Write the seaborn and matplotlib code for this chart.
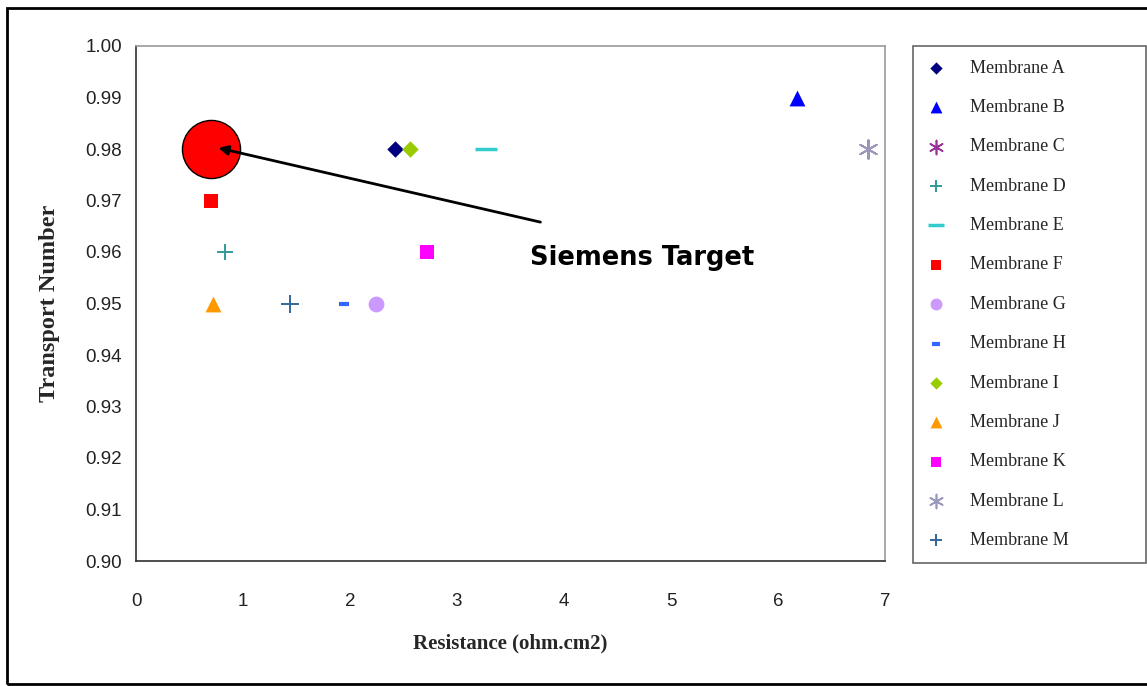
import matplotlib
matplotlib.use("Agg")
import matplotlib.pyplot as plt
import seaborn as sns
import pandas as pd
from matplotlib.patches import Rectangle

# ---- data ----
membranes = ["Membrane A", "Membrane B", "Membrane C", "Membrane D", "Membrane E",
             "Membrane F", "Membrane G", "Membrane H", "Membrane I", "Membrane J",
             "Membrane K", "Membrane L", "Membrane M"]
resistance = [2.42, 6.18, 6.84, 0.83, 3.27, 0.70, 2.24, 1.94, 2.56, 0.72, 2.72, 6.84, 1.44]
transport = [0.98, 0.99, 0.98, 0.96, 0.98, 0.97, 0.95, 0.95, 0.98, 0.95, 0.96, 0.98, 0.95]
target_x = [0.70]
target_y = [0.98]
target_label = "Siemens Target"
x_ticks = [0, 1, 2, 3, 4, 5, 6, 7]
y_ticks = [0.90, 0.91, 0.92, 0.93, 0.94, 0.95, 0.96, 0.97, 0.98, 0.99, 1.00]

# ---- styles ----
colors = ["#000080", "#0000FF", "#993399", "#339999", "#33CCCC", "#FF0000", "#CC99FF",
          "#3366FF", "#99CC00", "#FF9900", "#FF00FF", "#9999BB", "#336699"]
markers = ["D", "^", (6, 2, 0), "+", "_", "s", "o", "_", "D", "^", "s", (6, 2, 0), "+"]
sizes = [70, 130, 180, 120, 260, 110, 130, 50, 70, 130, 110, 180, 150]
lws = [0, 0, 1.2, 1.4, 2.5, 0, 0, 3.0, 0, 0, 0, 1.2, 1.4]

sns.set_theme(style="white")
plt.rcParams["font.family"] = ["Liberation Serif", "DejaVu Sans"]

fig = plt.figure(figsize=(11.47, 6.86), dpi=100)
W, H = 1147, 686
ax = fig.add_axes([136 / W, 1 - 561 / H, (885 - 136) / W, (561 - 46) / H])

df = pd.DataFrame({"membrane": membranes, "resistance": resistance, "transport": transport})

# big target circle
sns.scatterplot(x=target_x, y=target_y, s=1750, color="#FF0000", edgecolor="black",
                linewidth=1.0, ax=ax, legend=False, zorder=2)

for i, name in enumerate(membranes):
    sub = df[df["membrane"] == name]
    kw = dict(x=sub["resistance"], y=sub["transport"], marker=markers[i], s=sizes[i],
              color=colors[i], ax=ax, label=name, zorder=3, linewidth=lws[i])
    sns.scatterplot(**kw)

ax.set_xlim(0, 7)
ax.set_ylim(0.90, 1.00)
ax.set_xticks(x_ticks)
ax.set_xticklabels([str(t) for t in x_ticks])
ax.set_yticks(y_ticks)
ax.set_yticklabels([f"{t:.2f}" for t in y_ticks])
ax.tick_params(axis="both", which="major", direction="out", length=5, width=1,
               color="#404040", pad=5)
ax.tick_params(axis="y", labelsize=13.5)
ax.tick_params(axis="x", labelsize=13.5, pad=18)
for lab in ax.get_xticklabels() + ax.get_yticklabels():
    lab.set_fontfamily("Liberation Sans")
    lab.set_color("#222222")

for side in ["top", "right"]:
    ax.spines[side].set_color("#9a9a9a")
    ax.spines[side].set_linewidth(1.2)
for side in ["left", "bottom"]:
    ax.spines[side].set_color("#303030")
    ax.spines[side].set_linewidth(1.2)

ax.set_xlabel("Resistance (ohm.cm2)", fontsize=15, fontweight="bold",
              fontfamily="Liberation Serif", labelpad=17)
ax.set_ylabel("Transport Number", fontsize=17.5, fontweight="bold",
              fontfamily="Liberation Serif", labelpad=18)

# annotation
ax.annotate("", xy=(0.77, 0.9802), xytext=(3.78, 0.9658),
            arrowprops=dict(arrowstyle="-|>", color="black", lw=2.0,
                            mutation_scale=14, shrinkA=0, shrinkB=0), zorder=4)
ax.text(3.68, 0.9588, target_label, fontsize=18.5, fontweight="bold",
        fontfamily="DejaVu Sans", color="black", va="center", ha="left", zorder=4)

# legend
leg = ax.legend(loc="upper left", bbox_to_anchor=(913 / W, 1 - 562 / H, 233 / W, 516 / H),
                bbox_transform=fig.transFigure, mode="expand", borderaxespad=0,
                frameon=True, fancybox=False, edgecolor="#404040",
                labelspacing=1.24, handletextpad=1.4, borderpad=0.75,
                handlelength=1.0, markerscale=0.75,
                prop={"family": "Liberation Serif", "size": 13})
leg.get_frame().set_linewidth(1.2)

# outer frame
fig.patches.append(Rectangle((7 / W, 1 - 684 / H), (1160 - 7) / W, (684 - 8) / H,
                             transform=fig.transFigure, fill=False, edgecolor="black",
                             linewidth=2.0, zorder=10))

fig.savefig("out.png", dpi=100)
